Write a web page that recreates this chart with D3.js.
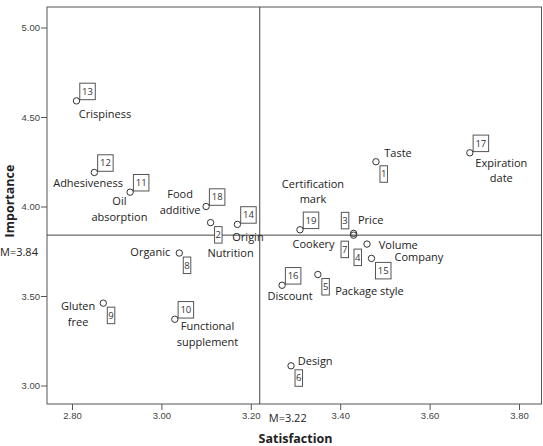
<!DOCTYPE html>
<html>
<head>
<meta charset="utf-8">
<script src="https://cdn.jsdelivr.net/npm/d3@7"></script>
<style>
  body { margin: 0; background: #fff; }
  svg { display: block; }
  .tick text { font-family: "Liberation Sans", Arial, sans-serif; font-size: 9.5px; fill: #444; }
  .tick line { stroke: #555; }
  .lbl { font-family: "Open Sans", sans-serif; font-size: 11px; fill: #222; }
  .num { font-family: "Open Sans", sans-serif; font-size: 9.5px; fill: #333; }
  .title { font-family: "Open Sans", sans-serif; font-size: 12.5px; font-weight: bold; fill: #222; }
</style>
</head>
<body>
<svg id="chart" width="543" height="446"></svg>
<script>
// attributes (id, name) with mean satisfaction / importance
const ids = [1, 2, 3, 4, 5, 6, 7, 8, 9, 10, 11, 12, 13, 14, 15, 16, 17, 18, 19];
const attributes = ["Taste", "Nutrition", "Price", "Volume", "Package style", "Design", "Cookery",
  "Organic", "Gluten\nfree", "Functional\nsupplement", "Oil\nabsorption", "Adhesiveness",
  "Crispiness", "Origin", "Company", "Discount", "Expiration\ndate", "Food\nadditive",
  "Certification\nmark"];
const satisfaction = [3.48, 3.11, 3.43, 3.46, 3.35, 3.29, 3.43, 3.04, 2.87, 3.03,
  2.93, 2.85, 2.81, 3.17, 3.47, 3.27, 3.69, 3.10, 3.31];
const importance = [4.25, 3.91, 3.85, 3.79, 3.62, 3.11, 3.84, 3.74, 3.46, 3.37,
  4.08, 4.19, 4.59, 3.90, 3.71, 3.56, 4.30, 4.00, 3.87];
const xTicks = [2.8, 3.0, 3.2, 3.4, 3.6, 3.8];
const yTicks = [3.0, 3.5, 4.0, 4.5, 5.0];
const meanSatisfaction = 3.22;
const meanImportance = 3.84;

// label placement (layout only): box corner offset + text offset/anchor
const placement = {
  1: { box: "lr", t: [8.3, -8.7, "start"] },
  2: { box: "lr", t: [20, 31, "middle"] },
  3: { box: [-12.3, -21], t: [4.4, -13.6, "start"] },
  4: { box: [-13, 5], t: [11.7, 0.7, "start"] },
  5: { box: "lr", t: [17.3, 16.7, "start"] },
  6: { box: "lr", t: [6.7, -4.4, "start"] },
  7: { box: [-12.6, 6], t: [-19, 9.5, "end"] },
  8: { box: "lr", t: [-9, -0.7, "end"] },
  9: { box: "lr", t: [-25.2, 3.3, "middle"] },
  10: { box: "ur", t: [32.7, 7.3, "middle"] },
  11: { box: "ur", t: [-10.7, 9, "middle"] },
  12: { box: "ur", t: [-6.3, 10.7, "middle"] },
  13: { box: "ur", t: [2.3, 13, "start"] },
  14: { box: "ur", t: [10.6, 12.7, "middle"] },
  15: { box: "lr", t: [23, -1, "start"] },
  16: { box: "ur", t: [8, 11.3, "middle"] },
  17: { box: "ur", t: [31.5, 10, "middle"] },
  18: { box: "ur", t: [-26, -12.4, "middle"] },
  19: { box: "ur", t: [13, -46, "middle"] }
};

const svg = d3.select("#chart");
const frame = { left: 47, right: 541.5, top: 7, bottom: 404 };

const x = d3.scaleLinear()
  .domain([2.8 - 25 / 447, 3.8 + 22.5 / 447])
  .range([frame.left, frame.right]);
const y = d3.scaleLinear()
  .domain([3 - 18.5 / 179, 5 + 20.5 / 179])
  .range([frame.bottom, frame.top]);

// axes
const fmt = d3.format(".2f");
const gx = svg.append("g")
  .attr("transform", `translate(0,${frame.bottom})`)
  .call(d3.axisBottom(x).tickValues(xTicks).tickFormat(fmt).tickSize(6).tickPadding(2));
const gy = svg.append("g")
  .attr("transform", `translate(${frame.left},0)`)
  .call(d3.axisLeft(y).tickValues(yTicks).tickFormat(fmt).tickSize(6).tickPadding(1));
gx.select(".domain").remove();
gy.select(".domain").remove();

// frame
svg.append("rect")
  .attr("x", frame.left).attr("y", frame.top)
  .attr("width", frame.right - frame.left).attr("height", frame.bottom - frame.top)
  .attr("fill", "none").attr("stroke", "#555").attr("stroke-width", 1);

// mean lines
svg.append("line")
  .attr("x1", x(meanSatisfaction)).attr("x2", x(meanSatisfaction))
  .attr("y1", frame.top).attr("y2", frame.bottom)
  .attr("stroke", "#444").attr("stroke-width", 1);
svg.append("line")
  .attr("x1", frame.left).attr("x2", frame.right)
  .attr("y1", y(meanImportance)).attr("y2", y(meanImportance))
  .attr("stroke", "#444").attr("stroke-width", 1);

svg.append("text").attr("class", "lbl")
  .attr("x", 0).attr("y", y(meanImportance) + 17).attr("dy", "0.35em")
  .text("M=" + meanImportance.toFixed(2));
svg.append("text").attr("class", "lbl")
  .attr("x", x(meanSatisfaction) + 28).attr("y", 418).attr("dy", "0.35em")
  .attr("text-anchor", "middle")
  .text("M=" + meanSatisfaction.toFixed(2));

// axis titles
svg.append("text").attr("class", "title")
  .attr("x", 295.5).attr("y", 443)
  .attr("text-anchor", "middle").text("Satisfaction");
svg.append("text").attr("class", "title")
  .attr("transform", "translate(14,201) rotate(-90)")
  .attr("text-anchor", "middle").text("Importance");

// points
const points = ids.map((id, i) => ({
  id, name: attributes[i], sx: satisfaction[i], im: importance[i]
}));

const g = svg.append("g");
points.forEach(d => {
  const cx = x(d.sx), cy = y(d.im);
  const p = placement[d.id];
  const w = d.id >= 10 ? 15.5 : 7.5, h = 16.5;
  let bx, by;
  if (p.box === "ur") { bx = cx + 3.3; by = cy - 1.2 - h; }
  else if (p.box === "lr") { bx = cx + 4; by = cy + 4; }
  else { bx = cx + p.box[0]; by = cy + p.box[1]; }

  g.append("rect")
    .attr("x", bx).attr("y", by).attr("width", w).attr("height", h)
    .attr("fill", "#fff").attr("stroke", "#555").attr("stroke-width", 1);
  g.append("text").attr("class", "num")
    .attr("x", bx + w / 2).attr("y", by + h / 2).attr("dy", "0.35em")
    .attr("text-anchor", "middle").text(d.id);

  const lines = d.name.split("\n");
  const t = g.append("text").attr("class", "lbl")
    .attr("text-anchor", p.t[2]);
  lines.forEach((ln, k) => {
    t.append("tspan")
      .attr("x", cx + p.t[0])
      .attr("y", cy + p.t[1] + k * 15.8)
      .attr("dy", "0.35em")
      .text(ln);
  });
});

g.selectAll("circle")
  .data(points)
  .join("circle")
  .attr("cx", d => x(d.sx))
  .attr("cy", d => y(d.im))
  .attr("r", 3.2)
  .attr("fill", "none")
  .attr("stroke", "#333")
  .attr("stroke-width", 1);
</script>
</body>
</html>
